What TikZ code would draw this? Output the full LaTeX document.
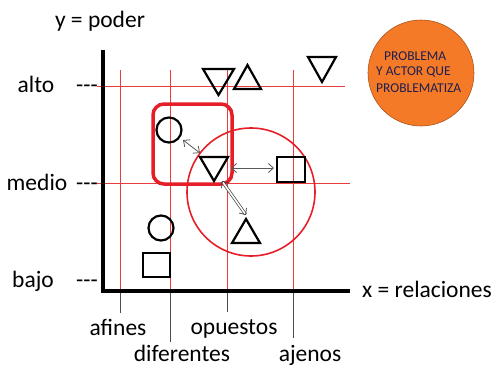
\documentclass[tikz,border=0pt]{standalone}
\usepackage{fontspec}
\setmainfont{Carlito}
\usetikzlibrary{arrows.meta}
\definecolor{gridred}{RGB}{235,60,60}
\definecolor{boxred}{RGB}{230,30,40}
\definecolor{orangefill}{RGB}{244,122,40}
\definecolor{navy}{RGB}{30,30,80}
\begin{document}
\begin{tikzpicture}[x=1pt,y=-1pt,
  lbl/.style={font=\fontsize{23.5}{27}\selectfont, inner sep=0pt, anchor=base},
  gridln/.style={gridred, line width=0.8pt},
  tick/.style={black!70, line width=0.9pt},
  shp/.style={draw=black, line width=2.2pt},
  rel/.style={black!65, line width=0.8pt, {Straight Barb[length=5pt,width=9pt]}-{Straight Barb[length=5pt,width=9pt]}},
  small/.style={font=\fontsize{13.5}{15}\selectfont, text=navy, inner sep=0pt}]
\useasboundingbox (0,0) rectangle (495,367);
% grid lines
\draw[gridln] (97,86) -- (345,86);
\draw[gridln] (97,183) -- (350,183);
\foreach \x in {120,170,227,293} \draw[gridln] (\x,70) -- (\x,291);
% ticks below axis
\draw[tick] (120,291) -- (120,313);
\draw[tick] (170,291) -- (170,342);
\draw[tick] (227,291) -- (227,312);
\draw[tick] (293,291) -- (293,338);
% axes
\coordinate (o) at (103,291);
\coordinate (ytop) at (103,50);
\coordinate (xend) at (350,291);
\draw[line width=4pt] (ytop) -- (o) -- (xend);
% axis labels
\node[lbl] (ylab) at (100,27) {y = poder};
\node[lbl] (xlab) at (427,297) {x = relaciones};
\node[lbl] (alto) at (36,92) {alto};
\node[lbl] (medio) at (37,190) {medio};
\node[lbl] (bajo) at (33,287) {bajo};
\node[lbl] (d1) at (87,92) {-{}-{}-};
\node[lbl] (d2) at (87,190) {-{}-{}-};
\node[lbl] (d3) at (87,287) {-{}-{}-};
\node[lbl] (afines) at (118,335) {afines};
\node[lbl] (diferentes) at (182,361) {diferentes};
\node[lbl] (opuestos) at (234,334) {opuestos};
\node[lbl] (ajenos) at (310,361) {ajenos};
% red shapes
\draw[boxred, line width=3.5pt, rounded corners=11pt] (153,104) rectangle (232,184);
\draw[boxred, line width=1.6pt] (251,192) circle (64);
% black shapes
\draw[shp] (169,130) circle (12.5);
\draw[shp] (161,228) circle (12.5);
\draw[shp] (143,253) rectangle (170,277);
\draw[shp] (277,157) rectangle (305,182);
\draw[shp] (200,157) -- (228,157) -- (214,181) -- cycle;
\draw[shp] (232,243) -- (260,243) -- (246,219) -- cycle;
\draw[shp] (203,69) -- (234,69) -- (218.5,95) -- cycle;
\draw[shp] (234,89) -- (261,89) -- (247.5,65) -- cycle;
\draw[shp] (308,57) -- (336,57) -- (322,82) -- cycle;
% relation arrows
\coordinate (a1) at (183,140);
\coordinate (a2) at (200,153);
\draw[rel] (a1) -- (a2);
\coordinate (b1) at (231,168);
\coordinate (b2) at (274,168);
\draw[rel] (b1) -- (b2);
\coordinate (c1) at (222,181);
\coordinate (c2) at (246,215);
\draw[black!75, line width=0.7pt, double distance=1.6pt, {Straight Barb[length=5pt,width=9pt]}-{Straight Barb[length=5pt,width=9pt]}] (c1) -- (c2);
% orange circle
\draw[fill=orangefill, draw=orangefill!70!black, line width=0.6pt] (421,73) circle (53);
\node[small, anchor=west] (p1) at (384,56) {PROBLEMA};
\node[small, anchor=west] (p2) at (376,72) {Y ACTOR QUE};
\node[small, anchor=west] (p3) at (376,88) {PROBLEMATIZA};
\end{tikzpicture}
\end{document}
